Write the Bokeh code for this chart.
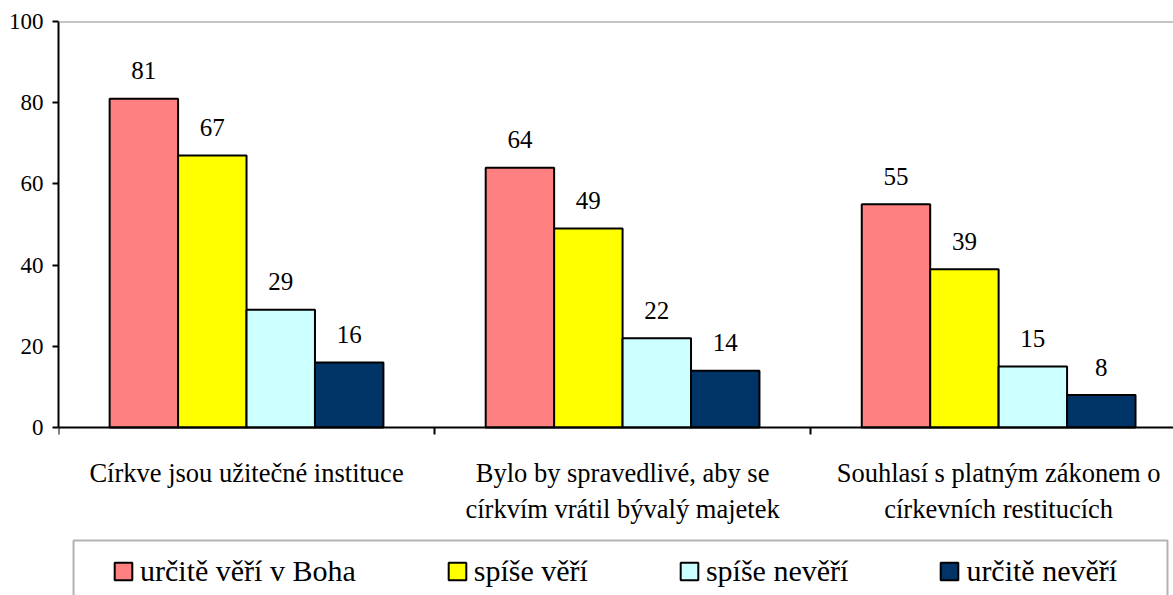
from bokeh.plotting import figure
from bokeh.models import Range1d, FixedTicker, Legend, LegendItem, Span, BoxAnnotation
from bokeh.core.properties import value
from bokeh.embed import file_html
from bokeh.resources import INLINE

categories = ["Církve jsou užitečné instituce",
              "Bylo by spravedlivé, aby se\ncírkvím vrátil bývalý majetek",
              "Souhlasí s platným zákonem o\ncírkevních restitucích"]
series = ["určitě věří v Boha", "spíše věří", "spíše nevěří", "určitě nevěří"]
urcite_veri = [81, 64, 55]
spise_veri = [67, 49, 39]
spise_neveri = [29, 22, 15]
urcite_neveri = [16, 14, 8]
values = [urcite_veri, spise_veri, spise_neveri, urcite_neveri]
y_ticks = [0, 20, 40, 60, 80, 100]
colors = ["#FF8080", "#FFFF00", "#CCFFFF", "#003366"]

FONT = "Liberation Serif"
BAR_W = 0.182

# frame spans the full lower area so that the legend below the axis is not clipped
p = figure(width=1173, height=595, output_backend="svg", toolbar_location=None,
           x_range=Range1d(0, 2.965), y_range=Range1d(-41.38, 100),
           min_border_left=58, min_border_top=21, min_border_right=0, min_border_bottom=0,
           outline_line_color=None, background_fill_color="white", border_fill_color="white")
p.grid.visible = False

renderers = []
n = len(categories)
for j, (vals, col) in enumerate(zip(values, colors)):
    xs = [i + 0.5 + (j - 1.5) * BAR_W for i in range(n)]
    r = p.vbar(x=xs, top=vals, width=BAR_W, bottom=0, fill_color=col,
               line_color="black", line_width=2)
    renderers.append(r)
    p.text(x=xs, y=vals, text=[str(v) for v in vals], text_align="center",
           text_baseline="alphabetic", y_offset=-28, text_font=value(FONT),
           text_font_size="25px", text_color="black")

p.add_layout(Span(location=100, dimension="width", line_color="#8c8c8c", line_width=2))

# y axis
ya = p.yaxis[0]
ya.ticker = FixedTicker(ticks=y_ticks)
ya.bounds = (0, 100)
ya.axis_line_width = 2
ya.axis_line_color = "black"
ya.major_tick_line_width = 2
ya.major_tick_out = 6
ya.major_tick_in = 0
ya.minor_tick_line_color = None
ya.major_label_standoff = 9
ya.major_label_text_font = FONT
ya.major_label_text_font_size = "23px"
ya.major_label_text_color = "black"

# x axis drawn at y = 0
xa = p.xaxis[0]
xa.fixed_location = 0
centers = [i + 0.5 for i in range(n)]
xa.ticker = FixedTicker(ticks=centers, minor_ticks=[i for i in range(n + 1)])
xa.major_label_overrides = {c: lab for c, lab in zip(centers, categories)}
xa.axis_line_width = 2
xa.axis_line_color = "black"
xa.major_tick_out = 0
xa.major_tick_in = 0
xa.major_tick_line_color = None
xa.minor_tick_out = 7
xa.minor_tick_in = 0
xa.minor_tick_line_width = 2
xa.minor_tick_line_color = "black"
xa.major_label_standoff = 24
xa.major_label_text_font = FONT
xa.major_label_text_font_size = "26.5px"
xa.major_label_text_color = "black"

# legend frame
p.add_layout(BoxAnnotation(left=0.04, right=2.949, top=-27.83, bottom=-60,
                           fill_color="white", fill_alpha=1.0,
                           line_color="black", line_width=2))

legend = Legend(items=[LegendItem(label=s, renderers=[r]) for s, r in zip(series, renderers)],
                orientation="horizontal", location=(54, 7),
                glyph_width=22, glyph_height=22, label_standoff=6, spacing=90,
                padding=8, border_line_color=None, background_fill_alpha=0,
                label_text_font=FONT, label_text_font_size="30px", label_text_color="black")
p.add_layout(legend, "center")

open("out.html", "w").write(file_html(p, INLINE))
